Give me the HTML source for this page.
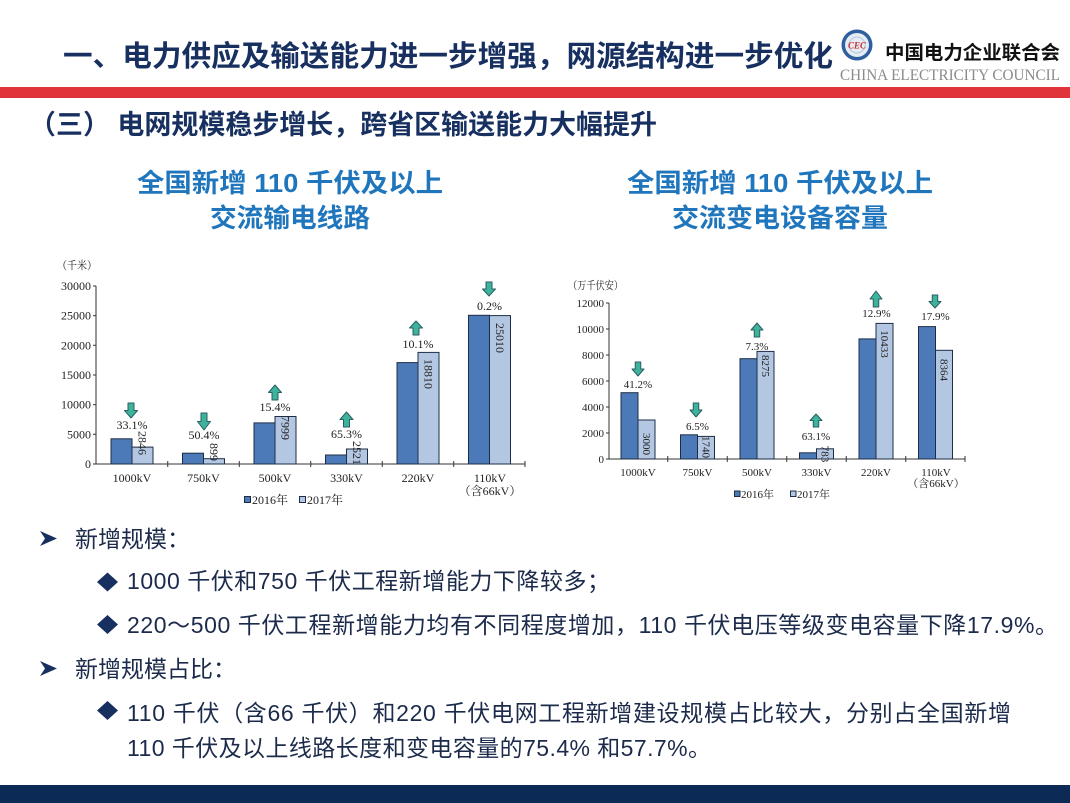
<!DOCTYPE html>
<html>
<head>
<meta charset="utf-8">
<style>
html,body{margin:0;padding:0;background:#fff;}
svg{display:block;}
.t{font-family:"Liberation Sans","Noto Sans CJK SC",sans-serif;}
.s{font-family:"Liberation Serif","Noto Serif CJK SC",serif;fill:#222;}
</style>
</head>
<body>
<svg width="1070" height="803" viewBox="0 0 1070 803" xmlns="http://www.w3.org/2000/svg">
<rect x="0" y="0" width="1070" height="803" fill="#fff"/>

<!-- Header -->
<text class="t" x="63" y="66" font-size="29" font-weight="bold" fill="#17305f" textLength="770" lengthAdjust="spacingAndGlyphs">一、电力供应及输送能力进一步增强，网源结构进一步优化</text>

<!-- logo -->
<circle cx="857" cy="45" r="15.5" fill="#2f5f9e"/>
<circle cx="857" cy="45" r="12" fill="#e6ecf4"/>
<circle cx="857" cy="45" r="8" fill="none" stroke="#b8c6da" stroke-width="1"/>
<text x="857" y="48.5" font-family="Liberation Serif,serif" font-size="9" font-style="italic" font-weight="bold" fill="#c8282e" text-anchor="middle">CEC</text>
<text class="t" x="885" y="59" font-size="19" font-weight="bold" fill="#111" textLength="175" lengthAdjust="spacingAndGlyphs">中国电力企业联合会</text>
<text x="840" y="80" font-family="Liberation Serif,serif" font-size="16" fill="#8a8a8a" textLength="220" lengthAdjust="spacingAndGlyphs">CHINA ELECTRICITY COUNCIL</text>

<rect x="0" y="87" width="1070" height="11" fill="#e0333a"/>

<text class="t" x="29" y="134" font-size="27" font-weight="bold" fill="#17305f" textLength="628" lengthAdjust="spacingAndGlyphs">（三） 电网规模稳步增长，跨省区输送能力大幅提升</text>

<!-- chart titles -->
<text class="t" x="290" y="192" font-size="26" font-weight="bold" fill="#1f76bd" text-anchor="middle" textLength="306" lengthAdjust="spacingAndGlyphs">全国新增 110 千伏及以上</text>
<text class="t" x="290" y="227" font-size="26" font-weight="bold" fill="#1f76bd" text-anchor="middle" textLength="160" lengthAdjust="spacingAndGlyphs">交流输电线路</text>
<text class="t" x="780" y="192" font-size="26" font-weight="bold" fill="#1f76bd" text-anchor="middle" textLength="306" lengthAdjust="spacingAndGlyphs">全国新增 110 千伏及以上</text>
<text class="t" x="780" y="227" font-size="26" font-weight="bold" fill="#1f76bd" text-anchor="middle" textLength="216" lengthAdjust="spacingAndGlyphs">交流变电设备容量</text>

<!-- ============ LEFT CHART ============ -->
<g>
<text class="s" x="57" y="269" font-size="11" textLength="40" lengthAdjust="spacingAndGlyphs">（千米）</text>
<!-- y tick labels -->
<g class="s" font-size="12" text-anchor="end">
<text x="91" y="468">0</text>
<text x="91" y="438.3">5000</text>
<text x="91" y="408.7">10000</text>
<text x="91" y="379">15000</text>
<text x="91" y="349.3">20000</text>
<text x="91" y="319.7">25000</text>
<text x="91" y="290">30000</text>
</g>
<g stroke="#333" stroke-width="1">
<line x1="96" y1="286" x2="96" y2="464.5"/>
<line x1="95.5" y1="464" x2="525" y2="464"/>
<line x1="93" y1="464" x2="96" y2="464"/>
<line x1="93" y1="434.3" x2="96" y2="434.3"/>
<line x1="93" y1="404.7" x2="96" y2="404.7"/>
<line x1="93" y1="375" x2="96" y2="375"/>
<line x1="93" y1="345.3" x2="96" y2="345.3"/>
<line x1="93" y1="315.7" x2="96" y2="315.7"/>
<line x1="93" y1="286" x2="96" y2="286"/>
<line x1="167.75" y1="461" x2="167.75" y2="467"/>
<line x1="239.25" y1="461" x2="239.25" y2="467"/>
<line x1="310.75" y1="461" x2="310.75" y2="467"/>
<line x1="382.25" y1="461" x2="382.25" y2="467"/>
<line x1="453.75" y1="461" x2="453.75" y2="467"/>
<line x1="525" y1="461" x2="525" y2="467"/>
</g>
<!-- bars -->
<g stroke="#1e2d45" stroke-width="1">
<rect x="111" y="438.8" width="21" height="25.2" fill="#4c7ab8"/>
<rect x="132" y="447.1" width="21" height="16.9" fill="#b4c7e2"/>
<rect x="182.5" y="453.2" width="21" height="10.8" fill="#4c7ab8"/>
<rect x="203.5" y="458.7" width="21" height="5.3" fill="#b4c7e2"/>
<rect x="254" y="422.9" width="21" height="41.1" fill="#4c7ab8"/>
<rect x="275" y="416.5" width="21" height="47.5" fill="#b4c7e2"/>
<rect x="325.5" y="455" width="21" height="9" fill="#4c7ab8"/>
<rect x="346.5" y="449" width="21" height="15" fill="#b4c7e2"/>
<rect x="397" y="362.6" width="21" height="101.4" fill="#4c7ab8"/>
<rect x="418" y="352.4" width="21" height="111.6" fill="#b4c7e2"/>
<rect x="468.5" y="315.3" width="21" height="148.7" fill="#4c7ab8"/>
<rect x="489.5" y="315.6" width="21" height="148.4" fill="#b4c7e2"/>
</g>
<!-- rotated value labels -->
<g class="s" font-size="12" text-anchor="middle">
<text transform="translate(142.5,443) rotate(90)" dy="4">2846</text>
<text transform="translate(214,452) rotate(90)" dy="4">899</text>
<text transform="translate(285.5,428) rotate(90)" dy="4">7999</text>
<text transform="translate(357,453) rotate(90)" dy="4">2521</text>
<text transform="translate(428.5,374) rotate(90)" dy="4">18810</text>
<text transform="translate(500,338) rotate(90)" dy="4">25010</text>
</g>
<!-- percent labels -->
<g class="s" font-size="12" text-anchor="middle">
<text x="132" y="429">33.1%</text>
<text x="204" y="439">50.4%</text>
<text x="275" y="411">15.4%</text>
<text x="346.5" y="438">65.3%</text>
<text x="418" y="348">10.1%</text>
<text x="489.5" y="310">0.2%</text>
</g>
<!-- arrows -->
<g fill="#3db39b" stroke="#2b5d63" stroke-width="1" stroke-linejoin="round">
<polygon points="128,403 134,403 134,410.5 137.5,410.5 131,418 124.5,410.5 128,410.5"/>
<polygon points="201,413 207,413 207,421.5 210.5,421.5 204,430 197.5,421.5 201,421.5"/>
<polygon points="275,385 281.5,392.5 278,392.5 278,400 272,400 272,392.5 268.5,392.5"/>
<polygon points="346.5,412 353,419.5 349.5,419.5 349.5,427 343.5,427 343.5,419.5 340,419.5"/>
<polygon points="416,321 422.5,328 419,328 419,335 413,335 413,328 409.5,328"/>
<polygon points="486,282 492,282 492,289 495.5,289 489,296 482.5,289 486,289"/>
</g>
<!-- x labels -->
<g class="s" font-size="12" text-anchor="middle">
<text x="132" y="482">1000kV</text>
<text x="203.5" y="482">750kV</text>
<text x="275" y="482">500kV</text>
<text x="346.5" y="482">330kV</text>
<text x="418" y="482">220kV</text>
<text x="490" y="482">110kV</text>
<text x="490" y="495">（含66kV）</text>
</g>
<!-- legend -->
<rect x="244.5" y="496.5" width="6" height="6" fill="#4c7ab8" stroke="#1e2d45" stroke-width="1"/>
<text class="s" x="252" y="504" font-size="12">2016年</text>
<rect x="299.5" y="496.5" width="6" height="6" fill="#b4c7e2" stroke="#1e2d45" stroke-width="1"/>
<text class="s" x="307" y="504" font-size="12">2017年</text>
</g>

<!-- ============ RIGHT CHART ============ -->
<g>
<text class="s" x="568" y="289" font-size="11" textLength="55" lengthAdjust="spacingAndGlyphs">（万千伏安）</text>
<g class="s" font-size="11" text-anchor="end">
<text x="604" y="463">0</text>
<text x="604" y="437">2000</text>
<text x="604" y="411">4000</text>
<text x="604" y="385">6000</text>
<text x="604" y="359">8000</text>
<text x="604" y="333">10000</text>
<text x="604" y="307">12000</text>
</g>
<g stroke="#333" stroke-width="1">
<line x1="609" y1="303" x2="609" y2="459.5"/>
<line x1="608.5" y1="459" x2="965" y2="459"/>
<line x1="606" y1="459" x2="609" y2="459"/>
<line x1="606" y1="433" x2="609" y2="433"/>
<line x1="606" y1="407" x2="609" y2="407"/>
<line x1="606" y1="381" x2="609" y2="381"/>
<line x1="606" y1="355" x2="609" y2="355"/>
<line x1="606" y1="329" x2="609" y2="329"/>
<line x1="606" y1="303" x2="609" y2="303"/>
<line x1="667.75" y1="456" x2="667.75" y2="462"/>
<line x1="727.25" y1="456" x2="727.25" y2="462"/>
<line x1="786.75" y1="456" x2="786.75" y2="462"/>
<line x1="846.25" y1="456" x2="846.25" y2="462"/>
<line x1="905.75" y1="456" x2="905.75" y2="462"/>
<line x1="965" y1="456" x2="965" y2="462"/>
</g>
<g stroke="#1e2d45" stroke-width="1">
<rect x="621" y="392.7" width="17" height="66.3" fill="#4c7ab8"/>
<rect x="638" y="420" width="17" height="39" fill="#b4c7e2"/>
<rect x="680.5" y="434.8" width="17" height="24.2" fill="#4c7ab8"/>
<rect x="697.5" y="436.4" width="17" height="22.6" fill="#b4c7e2"/>
<rect x="740" y="358.7" width="17" height="100.3" fill="#4c7ab8"/>
<rect x="757" y="351.4" width="17" height="107.6" fill="#b4c7e2"/>
<rect x="799.5" y="452.8" width="17" height="6.2" fill="#4c7ab8"/>
<rect x="816.5" y="448.8" width="17" height="10.2" fill="#b4c7e2"/>
<rect x="859" y="338.9" width="17" height="120.1" fill="#4c7ab8"/>
<rect x="876" y="323.4" width="17" height="135.6" fill="#b4c7e2"/>
<rect x="918.5" y="326.6" width="17" height="132.4" fill="#4c7ab8"/>
<rect x="935.5" y="350.3" width="17" height="108.7" fill="#b4c7e2"/>
</g>
<g class="s" font-size="11" text-anchor="middle">
<text transform="translate(646.5,444) rotate(90)" dy="3.7">3000</text>
<text transform="translate(706,447) rotate(90)" dy="3.7">1740</text>
<text transform="translate(765.5,366) rotate(90)" dy="3.7">8275</text>
<text transform="translate(825,454) rotate(90)" dy="3.7">783</text>
<text transform="translate(884.5,344) rotate(90)" dy="3.7">10433</text>
<text transform="translate(944,370) rotate(90)" dy="3.7">8364</text>
</g>
<g class="s" font-size="11" text-anchor="middle">
<text x="638" y="388">41.2%</text>
<text x="697.5" y="430">6.5%</text>
<text x="757" y="350">7.3%</text>
<text x="816" y="440">63.1%</text>
<text x="876.5" y="317">12.9%</text>
<text x="935.5" y="320">17.9%</text>
</g>
<g fill="#3db39b" stroke="#2b5d63" stroke-width="1" stroke-linejoin="round">
<polygon points="635.25,362 640.75,362 640.75,369 644,369 638,376 632,369 635.25,369"/>
<polygon points="693.25,403 698.75,403 698.75,410 702,410 696,417 690,410 693.25,410"/>
<polygon points="757,323 763,330 759.75,330 759.75,337 754.25,337 754.25,330 751,330"/>
<polygon points="816,414 822,420.5 818.75,420.5 818.75,427 813.25,427 813.25,420.5 810,420.5"/>
<polygon points="876,291 882,299 878.75,299 878.75,307 873.25,307 873.25,299 870,299"/>
<polygon points="932.25,295 937.75,295 937.75,301.5 941,301.5 935,308 929,301.5 932.25,301.5"/>
</g>
<g class="s" font-size="11" text-anchor="middle">
<text x="638" y="476">1000kV</text>
<text x="697.5" y="476">750kV</text>
<text x="757" y="476">500kV</text>
<text x="816.5" y="476">330kV</text>
<text x="876" y="476">220kV</text>
<text x="936" y="476">110kV</text>
<text x="936" y="487">（含66kV）</text>
</g>
<rect x="734.5" y="491" width="5.5" height="5.5" fill="#4c7ab8" stroke="#1e2d45" stroke-width="1"/>
<text class="s" x="741" y="498" font-size="11">2016年</text>
<rect x="790.5" y="491" width="5.5" height="5.5" fill="#b4c7e2" stroke="#1e2d45" stroke-width="1"/>
<text class="s" x="797" y="498" font-size="11">2017年</text>
</g>

<!-- ============ BODY TEXT ============ -->
<g fill="#17305f">
<polygon points="40,531 57,538.5 40,546 45,538.5"/>
<polygon points="40,661 57,668.5 40,676 45,668.5"/>
<polygon points="107.5,572.5 118,582 107.5,591.5 97,582"/>
<polygon points="107.5,615 118,624.5 107.5,634 97,624.5"/>
<polygon points="107.5,701 118,710.5 107.5,720 97,710.5"/>
</g>
<g class="t" font-size="23" fill="#1c2b4b">
<text x="75" y="547">新增规模：</text>
<text x="127" y="589" textLength="483" lengthAdjust="spacing">1000 千伏和750 千伏工程新增能力下降较多；</text>
<text x="127" y="633" textLength="931" lengthAdjust="spacing">220～500 千伏工程新增能力均有不同程度增加，110 千伏电压等级变电容量下降17.9%。</text>
<text x="75" y="677">新增规模占比：</text>
<text x="127" y="721" textLength="884" lengthAdjust="spacing">110 千伏（含66 千伏）和220 千伏电网工程新增建设规模占比较大，分别占全国新增</text>
<text x="127" y="756" textLength="584" lengthAdjust="spacing">110 千伏及以上线路长度和变电容量的75.4% 和57.7%。</text>
</g>

<!-- footer -->
<rect x="0" y="785" width="1070" height="18" fill="#0b2a55"/>
</svg>
</body>
</html>
